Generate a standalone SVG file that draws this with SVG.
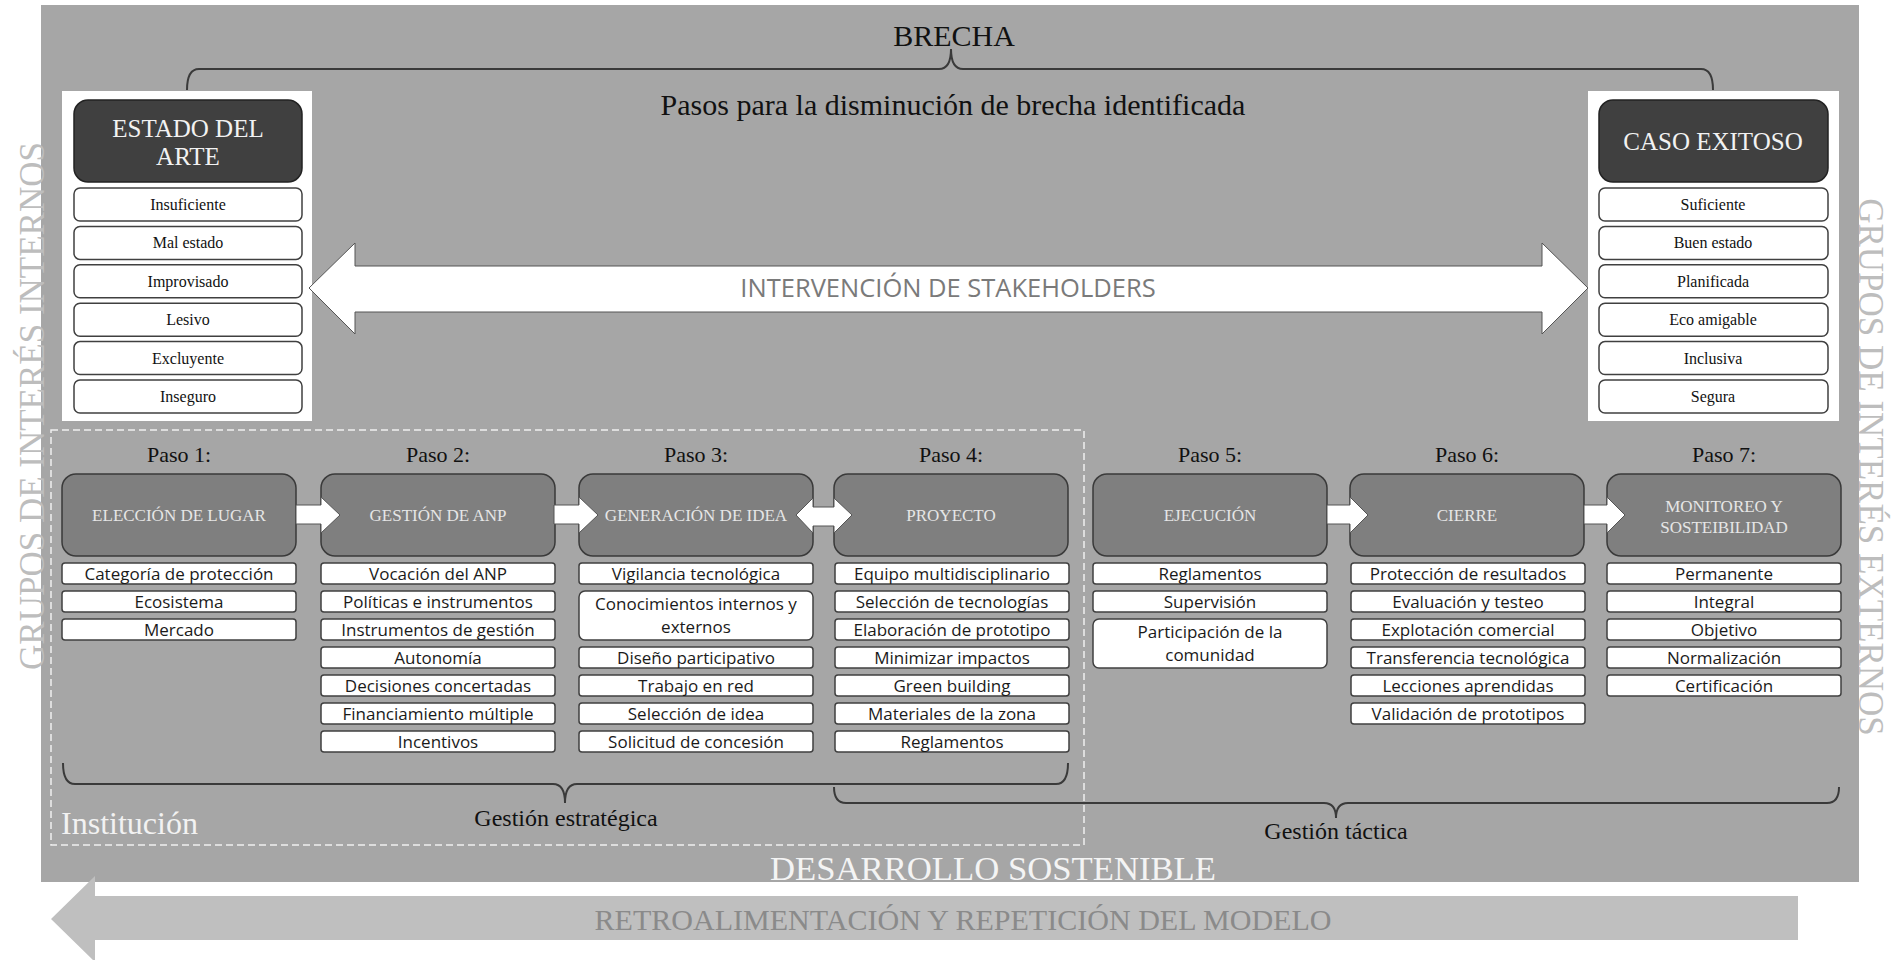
<svg xmlns="http://www.w3.org/2000/svg" width="1892" height="960" viewBox="0 0 1892 960">
<style>
.serif{font-family:"Liberation Serif","Times New Roman",serif}
.sans{font-family:"Open Sans","Noto Sans",sans-serif}
.step{fill:#7f7f7f;stroke:#3a3a3a;stroke-width:1.5}
.steptxt{font-family:"Liberation Serif",serif;font-size:17px;fill:#e6e6e6;text-anchor:middle}
.item{fill:#ffffff;stroke:#404040;stroke-width:1.5}
.itemtxt{font-family:"Open Sans","Noto Sans",sans-serif;font-size:17px;fill:#1a1a1a;text-anchor:middle}
.pitem{fill:#ffffff;stroke:#404040;stroke-width:1.5}
.ptxt{font-family:"Liberation Serif",serif;font-size:16px;fill:#111;text-anchor:middle}
.dark{fill:#404040;stroke:#222;stroke-width:1.5}
.darktxt{font-family:"Liberation Serif",serif;font-size:25px;fill:#f2f2f2;text-anchor:middle}
.paso{font-family:"Liberation Serif",serif;font-size:22px;fill:#111;text-anchor:middle}
.brace{fill:none;stroke:#3a3a3a;stroke-width:2}
.arr{fill:#ffffff;stroke:#555;stroke-width:1}
.vert{font-family:"Liberation Serif",serif;font-size:35px;fill:#bdbdbd;text-anchor:middle}
</style>

<!-- background -->
<rect x="41" y="5" width="1818" height="877" fill="#a6a6a6"/>

<!-- side labels -->
<text class="vert" transform="translate(44,406) rotate(-90)">GRUPOS DE INTERÉS INTERNOS</text>
<text class="vert" transform="translate(1859,467) rotate(90)">GRUPOS DE INTERÉS EXTERNOS</text>

<!-- titles -->
<text class="serif" x="954" y="46" font-size="30" fill="#111" text-anchor="middle">BRECHA</text>
<text class="serif" x="953" y="115" font-size="30" fill="#111" text-anchor="middle">Pasos para la disminución de brecha identificada</text>

<!-- dashed institution box -->
<rect x="51" y="430" width="1033" height="415" fill="none" stroke="#f0f0f0" stroke-width="1.5" stroke-dasharray="7 4"/>
<text class="serif" x="61" y="834" font-size="31" fill="#f2f2f2" textLength="137" lengthAdjust="spacingAndGlyphs">Institución</text>

<!-- left panel -->
<g id="estado-del-arte">
<rect x="62" y="91" width="250" height="330" fill="#ffffff"/>
<rect class="dark" x="74" y="100" width="228" height="82" rx="14"/>
<text class="darktxt" x="188" y="137">ESTADO DEL</text>
<text class="darktxt" x="188" y="165">ARTE</text>
<rect class="pitem" x="74" y="188" width="228" height="33" rx="6"/><text class="ptxt" x="188" y="210">Insuficiente</text>
<rect class="pitem" x="74" y="226.4" width="228" height="33" rx="6"/><text class="ptxt" x="188" y="248.4">Mal estado</text>
<rect class="pitem" x="74" y="264.8" width="228" height="33" rx="6"/><text class="ptxt" x="188" y="286.8">Improvisado</text>
<rect class="pitem" x="74" y="303.2" width="228" height="33" rx="6"/><text class="ptxt" x="188" y="325.2">Lesivo</text>
<rect class="pitem" x="74" y="341.6" width="228" height="33" rx="6"/><text class="ptxt" x="188" y="363.6">Excluyente</text>
<rect class="pitem" x="74" y="380" width="228" height="33" rx="6"/><text class="ptxt" x="188" y="402">Inseguro</text>
</g>

<!-- right panel -->
<g id="caso-exitoso">
<rect x="1588" y="91" width="251" height="330" fill="#ffffff"/>
<rect class="dark" x="1599" y="100" width="229" height="82" rx="14"/>
<text class="darktxt" x="1713" y="150">CASO EXITOSO</text>
<rect class="pitem" x="1599" y="188" width="229" height="33" rx="6"/><text class="ptxt" x="1713" y="210">Suficiente</text>
<rect class="pitem" x="1599" y="226.4" width="229" height="33" rx="6"/><text class="ptxt" x="1713" y="248.4">Buen estado</text>
<rect class="pitem" x="1599" y="264.8" width="229" height="33" rx="6"/><text class="ptxt" x="1713" y="286.8">Planificada</text>
<rect class="pitem" x="1599" y="303.2" width="229" height="33" rx="6"/><text class="ptxt" x="1713" y="325.2">Eco amigable</text>
<rect class="pitem" x="1599" y="341.6" width="229" height="33" rx="6"/><text class="ptxt" x="1713" y="363.6">Inclusiva</text>
<rect class="pitem" x="1599" y="380" width="229" height="33" rx="6"/><text class="ptxt" x="1713" y="402">Segura</text>
</g>

<!-- steps -->
<g id="paso1">
<text class="paso" x="179" y="462">Paso 1:</text>
<rect class="step" x="62" y="474" width="234" height="82" rx="14"/>
<text class="steptxt" x="179" y="521">ELECCIÓN DE LUGAR</text>
<rect class="item" x="62" y="563" width="234" height="21" rx="3"/><text class="itemtxt" x="179" y="580">Categoría de protección</text>
<rect class="item" x="62" y="591" width="234" height="21" rx="3"/><text class="itemtxt" x="179" y="608">Ecosistema</text>
<rect class="item" x="62" y="619" width="234" height="21" rx="3"/><text class="itemtxt" x="179" y="636">Mercado</text>
</g>

<g id="paso2">
<text class="paso" x="438" y="462">Paso 2:</text>
<rect class="step" x="321" y="474" width="234" height="82" rx="14"/>
<text class="steptxt" x="438" y="521">GESTIÓN  DE ANP</text>
<rect class="item" x="321" y="563" width="234" height="21" rx="3"/><text class="itemtxt" x="438" y="580">Vocación del ANP</text>
<rect class="item" x="321" y="591" width="234" height="21" rx="3"/><text class="itemtxt" x="438" y="608">Políticas e instrumentos</text>
<rect class="item" x="321" y="619" width="234" height="21" rx="3"/><text class="itemtxt" x="438" y="636">Instrumentos de gestión</text>
<rect class="item" x="321" y="647" width="234" height="21" rx="3"/><text class="itemtxt" x="438" y="664">Autonomía</text>
<rect class="item" x="321" y="675" width="234" height="21" rx="3"/><text class="itemtxt" x="438" y="692">Decisiones concertadas</text>
<rect class="item" x="321" y="703" width="234" height="21" rx="3"/><text class="itemtxt" x="438" y="720">Financiamiento múltiple</text>
<rect class="item" x="321" y="731" width="234" height="21" rx="3"/><text class="itemtxt" x="438" y="748">Incentivos</text>
</g>

<g id="paso3">
<text class="paso" x="696" y="462">Paso 3:</text>
<rect class="step" x="579" y="474" width="234" height="82" rx="14"/>
<text class="steptxt" x="696" y="521">GENERACIÓN DE IDEA</text>
<rect class="item" x="579" y="563" width="234" height="21" rx="3"/><text class="itemtxt" x="696" y="580">Vigilancia tecnológica</text>
<rect class="item" x="579" y="591" width="234" height="49" rx="6"/><text class="itemtxt" x="696" y="610">Conocimientos internos y</text><text class="itemtxt" x="696" y="633">externos</text>
<rect class="item" x="579" y="647" width="234" height="21" rx="3"/><text class="itemtxt" x="696" y="664">Diseño participativo</text>
<rect class="item" x="579" y="675" width="234" height="21" rx="3"/><text class="itemtxt" x="696" y="692">Trabajo en red</text>
<rect class="item" x="579" y="703" width="234" height="21" rx="3"/><text class="itemtxt" x="696" y="720">Selección de idea</text>
<rect class="item" x="579" y="731" width="234" height="21" rx="3"/><text class="itemtxt" x="696" y="748">Solicitud de concesión</text>
</g>

<g id="paso4">
<text class="paso" x="951" y="462">Paso 4:</text>
<rect class="step" x="834" y="474" width="234" height="82" rx="14"/>
<text class="steptxt" x="951" y="521">PROYECTO</text>
<rect class="item" x="835" y="563" width="234" height="21" rx="3"/><text class="itemtxt" x="952" y="580">Equipo multidisciplinario</text>
<rect class="item" x="835" y="591" width="234" height="21" rx="3"/><text class="itemtxt" x="952" y="608">Selección de tecnologías</text>
<rect class="item" x="835" y="619" width="234" height="21" rx="3"/><text class="itemtxt" x="952" y="636">Elaboración de prototipo</text>
<rect class="item" x="835" y="647" width="234" height="21" rx="3"/><text class="itemtxt" x="952" y="664">Minimizar impactos</text>
<rect class="item" x="835" y="675" width="234" height="21" rx="3"/><text class="itemtxt" x="952" y="692">Green building</text>
<rect class="item" x="835" y="703" width="234" height="21" rx="3"/><text class="itemtxt" x="952" y="720">Materiales de la zona</text>
<rect class="item" x="835" y="731" width="234" height="21" rx="3"/><text class="itemtxt" x="952" y="748">Reglamentos</text>
</g>

<g id="paso5">
<text class="paso" x="1210" y="462">Paso 5:</text>
<rect class="step" x="1093" y="474" width="234" height="82" rx="14"/>
<text class="steptxt" x="1210" y="521">EJECUCIÓN</text>
<rect class="item" x="1093" y="563" width="234" height="21" rx="3"/><text class="itemtxt" x="1210" y="580">Reglamentos</text>
<rect class="item" x="1093" y="591" width="234" height="21" rx="3"/><text class="itemtxt" x="1210" y="608">Supervisión</text>
<rect class="item" x="1093" y="619" width="234" height="49" rx="6"/><text class="itemtxt" x="1210" y="638">Participación de la</text><text class="itemtxt" x="1210" y="661">comunidad</text>
</g>

<g id="paso6">
<text class="paso" x="1467" y="462">Paso 6:</text>
<rect class="step" x="1350" y="474" width="234" height="82" rx="14"/>
<text class="steptxt" x="1467" y="521">CIERRE</text>
<rect class="item" x="1351" y="563" width="234" height="21" rx="3"/><text class="itemtxt" x="1468" y="580">Protección de resultados</text>
<rect class="item" x="1351" y="591" width="234" height="21" rx="3"/><text class="itemtxt" x="1468" y="608">Evaluación y testeo</text>
<rect class="item" x="1351" y="619" width="234" height="21" rx="3"/><text class="itemtxt" x="1468" y="636">Explotación comercial</text>
<rect class="item" x="1351" y="647" width="234" height="21" rx="3"/><text class="itemtxt" x="1468" y="664">Transferencia tecnológica</text>
<rect class="item" x="1351" y="675" width="234" height="21" rx="3"/><text class="itemtxt" x="1468" y="692">Lecciones aprendidas</text>
<rect class="item" x="1351" y="703" width="234" height="21" rx="3"/><text class="itemtxt" x="1468" y="720">Validación de prototipos</text>
</g>

<g id="paso7">
<text class="paso" x="1724" y="462">Paso 7:</text>
<rect class="step" x="1607" y="474" width="234" height="82" rx="14"/>
<text class="steptxt" x="1724" y="512">MONITOREO Y</text>
<text class="steptxt" x="1724" y="533">SOSTEIBILIDAD</text>
<rect class="item" x="1607" y="563" width="234" height="21" rx="3"/><text class="itemtxt" x="1724" y="580">Permanente</text>
<rect class="item" x="1607" y="591" width="234" height="21" rx="3"/><text class="itemtxt" x="1724" y="608">Integral</text>
<rect class="item" x="1607" y="619" width="234" height="21" rx="3"/><text class="itemtxt" x="1724" y="636">Objetivo</text>
<rect class="item" x="1607" y="647" width="234" height="21" rx="3"/><text class="itemtxt" x="1724" y="664">Normalización</text>
<rect class="item" x="1607" y="675" width="234" height="21" rx="3"/><text class="itemtxt" x="1724" y="692">Certificación</text>
</g>

<!-- connectors -->
<g id="connectors">
<path class="brace" d="M187,90 Q187,69 199,69 H939 Q951,69 951,49 Q951,69 963,69 H1701 Q1713,69 1713,90"/>
<path class="arr" d="M309,288 L355,243 L355,266 L1542,266 L1542,243 L1588,288 L1542,334 L1542,312 L355,312 L355,334 Z"/>
<path class="arr" d="M296,505 H321 V497 L340,515 L321,533 V524 H296 Z"/>
<path class="arr" d="M554,505 H579 V497 L598,515 L579,533 V524 H554 Z"/>
<path class="arr" d="M796,515 L813,498 V507 H834 V498 L852,515 L834,533 V526 H813 V533 Z"/>
<path class="arr" d="M1327,505 H1350 V497 L1368,515 L1350,533 V524 H1327 Z"/>
<path class="arr" d="M1584,505 H1607 V497 L1625,515 L1607,533 V524 H1584 Z"/>
<path class="brace" d="M63,763 Q63,784 75,784 H553 Q565,784 565,803 Q565,784 577,784 H1056 Q1068,784 1068,763"/>
<path class="brace" d="M834,787 Q834,803 846,803 H1324 Q1336,803 1336,818 Q1336,803 1348,803 H1827 Q1839,803 1839,787"/>
<path d="M51,919 L95,876 L95,896 L1798,896 L1798,940 L95,940 L95,962 Z" fill="#bfbfbf"/>
</g>

<text class="sans" x="948" y="297" font-size="25.5" fill="#7a7a7a" text-anchor="middle">INTERVENCIÓN DE STAKEHOLDERS</text>
<text class="serif" x="566" y="826" font-size="24" fill="#111" text-anchor="middle">Gestión estratégica</text>
<text class="serif" x="1336" y="839" font-size="24" fill="#111" text-anchor="middle">Gestión táctica</text>
<text class="serif" x="993" y="880" font-size="33" fill="#f4f4f4" text-anchor="middle" textLength="446" lengthAdjust="spacingAndGlyphs">DESARROLLO SOSTENIBLE</text>
<text class="serif" x="963" y="930" font-size="29" fill="#8a8a8a" text-anchor="middle" textLength="737" lengthAdjust="spacingAndGlyphs">RETROALIMENTACIÓN Y REPETICIÓN DEL MODELO</text>
</svg>
